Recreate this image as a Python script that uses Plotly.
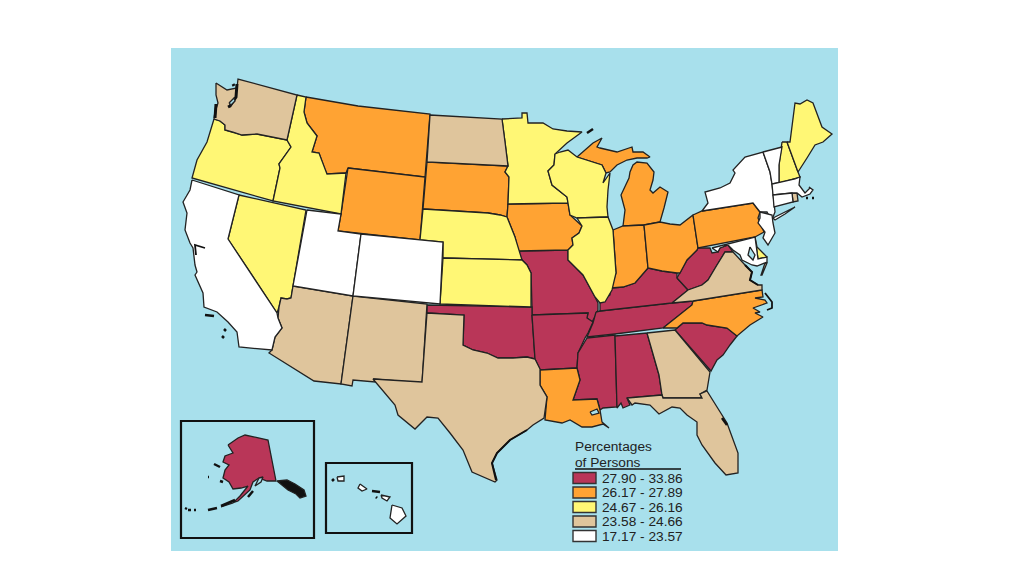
import plotly.graph_objects as go

# outlines, in picture pixels (x, y)
WA = [(216, 83), (216, 95), (218, 103), (215, 112), (214, 119), (220, 121), (225, 125), (225, 130), (233, 132),
      (242, 135), (257, 134), (272, 137), (287, 140), (297, 95), (238, 79), (237, 88), (227, 90)]
OR = [(214, 119), (207, 142), (197, 160), (192, 178), (273, 201), (280, 168), (279, 164), (291, 147), (287, 140),
      (272, 137), (257, 134), (242, 135), (233, 132), (225, 130), (225, 125), (220, 121)]
ID = [(297, 95), (306, 97), (304, 112), (307, 123), (317, 136), (312, 152), (319, 153), (325, 170), (327, 174),
      (346, 173), (341, 214), (273, 201), (280, 168), (279, 164), (291, 147), (287, 140)]
MT = [(306, 97), (358, 106), (430, 114), (425, 177), (348, 168), (346, 173), (327, 174), (325, 170), (319, 153),
      (312, 152), (317, 136), (307, 123), (304, 112)]
WY = [(348, 168), (425, 177), (420, 240), (361, 234), (338, 231), (341, 214)]
ND = [(430, 115), (502, 119), (505, 142), (508, 166), (427, 162)]
SD = [(427, 162), (508, 166), (505, 172), (509, 177), (508, 204), (507, 217), (500, 215), (488, 213), (423, 209)]
MN = [(502, 119), (522, 118), (522, 113), (527, 113), (528, 123), (543, 123), (553, 129), (567, 131), (582, 132),
      (567, 143), (555, 154), (554, 165), (548, 171), (552, 185), (567, 197), (568, 203), (508, 204), (509, 177),
      (505, 172), (508, 166), (505, 142)]
WI = [(555, 154), (560, 152), (568, 150), (577, 157), (602, 165), (606, 173), (603, 183), (610, 173), (608, 190),
      (607, 207), (608, 217), (577, 218), (570, 215), (568, 203), (567, 197), (552, 185), (548, 171), (554, 165)]
IA = [(508, 204), (568, 203), (570, 215), (582, 226), (579, 233), (572, 238), (573, 245), (568, 250), (518, 251),
      (515, 237), (507, 217)]
IL = [(577, 218), (608, 217), (613, 230), (616, 273), (612, 290), (605, 302), (600, 303), (595, 297), (583, 275),
      (568, 260), (568, 250), (573, 245), (572, 238), (579, 233), (582, 226)]
NE = [(423, 209), (488, 213), (500, 215), (507, 217), (515, 237), (522, 260), (443, 258), (443, 242), (420, 240)]
KS = [(443, 258), (522, 260), (527, 265), (531, 273), (531, 307), (440, 304)]
CO = [(361, 234), (420, 240), (443, 242), (440, 304), (353, 296)]
UT = [(307, 210), (341, 214), (338, 231), (361, 234), (353, 296), (293, 286)]
NV = [(239, 195), (306, 210), (293, 286), (291, 298), (287, 299), (281, 298), (279, 307), (277, 313), (228, 239)]
CA = [(192, 180), (239, 195), (228, 239), (277, 313), (278, 318), (282, 328), (275, 337), (272, 350), (239, 347),
      (237, 332), (228, 322), (217, 312), (204, 307), (203, 293), (195, 275), (197, 272), (195, 265), (193, 248),
      (190, 243), (185, 230), (187, 213), (183, 202), (190, 190)]
AZ = [(293, 286), (353, 296), (341, 384), (314, 381), (269, 353), (272, 350), (275, 337), (282, 328), (278, 318),
      (279, 307), (281, 298), (287, 299), (291, 298)]
NM = [(353, 296), (427, 304), (422, 383), (374, 379), (375, 382), (353, 380), (352, 386), (341, 384)]
TX = [(427, 313), (464, 315), (463, 345), (473, 350), (487, 353), (498, 358), (513, 358), (527, 357), (535, 359),
      (540, 369), (540, 385), (547, 397), (544, 418), (533, 425), (527, 430), (510, 440), (497, 453), (492, 463),
      (497, 480), (495, 482), (472, 472), (463, 450), (450, 433), (438, 418), (427, 417), (415, 429), (398, 415),
      (395, 405), (373, 379), (422, 382)]
OK = [(427, 305), (532, 307), (532, 315), (535, 359), (527, 357), (513, 358), (498, 358), (487, 353), (473, 350),
      (463, 345), (464, 315), (427, 313)]
AR = [(532, 315), (588, 313), (587, 318), (593, 322), (588, 333), (585, 338), (578, 353), (577, 368), (540, 370),
      (535, 359)]
MO = [(518, 251), (568, 250), (568, 260), (583, 275), (595, 297), (598, 303), (598, 310), (597, 313), (592, 322),
      (587, 318), (588, 313), (532, 315), (532, 307), (531, 273), (527, 265), (522, 260)]
LA = [(540, 370), (577, 368), (580, 380), (573, 400), (597, 399), (600, 410), (602, 422), (609, 428), (603, 424),
      (592, 427), (582, 427), (570, 420), (562, 423), (545, 420), (547, 397), (540, 385)]
MS = [(587, 338), (615, 335), (617, 407), (603, 408), (600, 410), (597, 399), (573, 400), (580, 380), (577, 368),
      (578, 353)]
AL = [(615, 336), (647, 333), (659, 375), (662, 395), (627, 398), (630, 405), (623, 408), (621, 403), (617, 408)]
GA = [(647, 333), (675, 330), (710, 372), (707, 390), (700, 394), (702, 398), (663, 398), (662, 395), (659, 375)]
FL = [(627, 398), (662, 395), (663, 398), (702, 398), (700, 394), (707, 391), (727, 423), (738, 453), (738, 473),
      (726, 475), (715, 463), (708, 453), (702, 445), (697, 435), (697, 422), (687, 415), (680, 408), (672, 407),
      (663, 412), (659, 414), (650, 405), (635, 403), (632, 405)]
SC = [(675, 330), (683, 323), (702, 323), (707, 325), (727, 328), (737, 336), (730, 345), (723, 355), (717, 360),
      (711, 371)]
NC = [(663, 328), (677, 317), (692, 305), (693, 301), (762, 290), (763, 297), (755, 298), (765, 300), (767, 303),
      (753, 308), (760, 312), (755, 313), (763, 317), (750, 325), (737, 336), (727, 328), (707, 325), (702, 323),
      (683, 323), (677, 328)]
TN = [(596, 312), (600, 311), (672, 303), (693, 301), (692, 305), (677, 317), (663, 328), (615, 334), (587, 337),
      (593, 323)]
KY = [(600, 303), (610, 295), (611, 288), (623, 287), (635, 283), (648, 268), (662, 271), (677, 273), (677, 278),
      (688, 290), (672, 303), (600, 311)]
VA = [(672, 303), (688, 290), (702, 285), (708, 280), (717, 265), (725, 252), (733, 252), (740, 260), (745, 265),
      (752, 272), (750, 280), (758, 285), (762, 285), (762, 290), (693, 301)]
WV = [(677, 278), (680, 273), (687, 260), (697, 250), (697, 243), (698, 248), (710, 248), (712, 253), (718, 252),
      (720, 248), (728, 245), (733, 252), (725, 252), (717, 265), (708, 280), (702, 285), (688, 290)]
OH = [(644, 225), (660, 222), (670, 224), (680, 225), (693, 215), (698, 248), (697, 250), (687, 260), (680, 273),
      (677, 273), (662, 271), (648, 268)]
IN = [(613, 230), (623, 226), (644, 225), (648, 268), (635, 283), (623, 287), (611, 288), (616, 273)]
MI_LOWER = [(623, 226), (625, 210), (621, 195), (627, 183), (629, 178), (630, 172), (633, 165), (637, 162), (647, 163),
            (654, 172), (653, 180), (650, 190), (653, 193), (660, 187), (668, 192), (664, 208), (660, 222), (644, 225)]
MI_UPPER = [(577, 157), (583, 152), (593, 143), (602, 138), (597, 147), (600, 148), (617, 152), (632, 147), (633, 152),
            (643, 152), (650, 157), (647, 158), (637, 158), (627, 160), (617, 165), (610, 172), (606, 173), (602, 165)]
PA = [(693, 215), (702, 211), (753, 203), (760, 212), (758, 218), (764, 232), (755, 237), (698, 248)]
NY = [(702, 211), (708, 203), (705, 192), (720, 188), (730, 183), (735, 173), (733, 170), (745, 157), (763, 152),
      (770, 172), (772, 184), (773, 195), (774, 207), (775, 212), (773, 217), (772, 222), (767, 212), (760, 212),
      (753, 203)]
LONG_ISLAND = [(773, 218), (795, 207), (785, 214), (775, 220)]
VT = [(763, 152), (782, 147), (779, 165), (779, 183), (772, 184), (770, 172)]
NH = [(782, 142), (787, 142), (798, 172), (800, 177), (779, 183), (779, 165)]
ME = [(787, 142), (790, 142), (795, 103), (800, 104), (807, 100), (813, 103), (822, 127), (832, 134), (823, 142),
      (815, 145), (807, 158), (798, 172)]
MA = [(772, 184), (795, 179), (800, 177), (799, 185), (805, 193), (810, 188), (809, 187), (813, 190), (810, 194),
      (802, 197), (797, 193), (792, 193), (773, 195)]
CT = [(773, 195), (792, 193), (793, 202), (774, 207)]
RI = [(792, 193), (797, 193), (798, 201), (793, 202)]
NJ = [(760, 212), (772, 215), (773, 223), (775, 233), (768, 245), (763, 238), (765, 232), (758, 223), (760, 218)]
DE = [(755, 237), (757, 247), (767, 257), (758, 259)]
MD = [(712, 248), (755, 237), (758, 259), (767, 257), (767, 262), (757, 266), (752, 265), (742, 260), (740, 255),
      (733, 250), (728, 245), (720, 248), (718, 252)]
CHES_BAY = [(750, 247), (748, 255), (753, 260), (755, 255)]
VA_SHORE = [(765, 263), (767, 263), (762, 275), (761, 275)]
AK = [(228, 445), (238, 438), (245, 435), (268, 440), (276, 481), (267, 481), (259, 478), (253, 482), (250, 490),
      (238, 501), (221, 507), (233, 503), (240, 496), (248, 486), (241, 488), (233, 489), (229, 482), (223, 478),
      (225, 470), (229, 465), (223, 462), (225, 456), (233, 453)]
AK_PANHANDLE = [(277, 481), (287, 480), (295, 484), (304, 490), (306, 496), (300, 498), (296, 494), (288, 490)]
HI_BIG = [(392, 505), (402, 508), (406, 516), (397, 524), (390, 518)]
HI_MAUI = [(381, 495), (390, 497), (387, 501), (382, 498)]
HI_OAHU = [(360, 484), (367, 489), (362, 491), (358, 488)]
HI_KAUAI = [(337, 477), (344, 476), (344, 481), (338, 481)]

# black shoreline detail and small islands
PUGET = [(237, 84), (236, 97), (230, 106), (228, 107)]
PUGET_ISLAND = [(233, 84), (234, 86)]
WA_COAST = [(216, 104), (215, 118)]
SF_BAY = [(195, 245), (205, 248), (195, 245), (196, 255)]
CA_ISLANDS = [[(205, 315), (214, 316)], [(224, 329), (226, 331)], [(222, 336), (224, 338)]]
TX_COAST = [(527, 430), (510, 440), (497, 453), (492, 463), (496, 480)]
FL_COAST = [(722, 418), (727, 425)]
OUTER_BANKS = [(765, 293), (772, 302), (772, 308), (767, 310)]
VA_TIDEWATER = [(745, 265), (752, 272), (750, 280), (758, 285)]
MA_ISLANDS = [[(806, 198), (808, 198)], [(812, 198), (814, 198)]]
AK_ISLANDS = [[(185, 508), (187, 509)], [(188, 510), (191, 510)], [(194, 510), (196, 510)], [(208, 510), (217, 508)],
              [(221, 506), (235, 500)], [(214, 464), (220, 467)], [(208, 477), (209, 477)], [(220, 481), (223, 482)],
              [(248, 497), (253, 491)]]
HI_ISLANDS = [[(332, 481), (334, 479)], [(372, 491), (380, 492)], [(376, 497), (377, 498)]]
ISLE_ROYALE = [[(587, 133), (593, 129)]]

# small water bodies drawn on top of the land
LAKE_PONTCHARTRAIN = [(590, 412), (597, 409), (599, 413), (592, 415)]
AK_COOK = [(259, 478), (263, 477), (261, 482), (255, 486)]
PUGET_SOUND = [(229, 103), (234, 98), (235, 101), (231, 105)]

BIN_LABELS = ["27.90 - 33.86", "26.17 - 27.89", "24.67 - 26.16", "23.58 - 24.66", "17.17 - 23.57"]
BIN_COLORS = ["#b93658", "#ffa333", "#fff775", "#dfc59c", "#ffffff"]

BIN_0 = [("Missouri", MO), ("Oklahoma", OK), ("Arkansas", AR), ("Mississippi", MS), ("Alabama", AL),
         ("Tennessee", TN), ("Kentucky", KY), ("West Virginia", WV), ("South Carolina", SC), ("Alaska", AK)]
BIN_1 = [("Montana", MT), ("Wyoming", WY), ("South Dakota", SD), ("Iowa", IA), ("Michigan", MI_LOWER),
         ("Michigan", MI_UPPER), ("Indiana", IN), ("Ohio", OH), ("Pennsylvania", PA), ("North Carolina", NC),
         ("Louisiana", LA)]
BIN_2 = [("Oregon", OR), ("Idaho", ID), ("Nevada", NV), ("Nebraska", NE), ("Kansas", KS), ("Minnesota", MN),
         ("Wisconsin", WI), ("Illinois", IL), ("New Hampshire", NH), ("Maine", ME), ("Delaware", DE)]
BIN_3 = [("Washington", WA), ("North Dakota", ND), ("Arizona", AZ), ("New Mexico", NM), ("Texas", TX),
         ("Georgia", GA), ("Florida", FL), ("Virginia", VA), ("Virginia", VA_SHORE), ("Rhode Island", RI)]
BIN_4 = [("California", CA), ("Utah", UT), ("Colorado", CO), ("New York", NY), ("New York", LONG_ISLAND),
         ("Vermont", VT), ("Massachusetts", MA), ("Connecticut", CT), ("New Jersey", NJ), ("Maryland", MD),
         ("Hawaii", HI_BIG), ("Hawaii", HI_MAUI), ("Hawaii", HI_OAHU), ("Hawaii", HI_KAUAI)]

WATER = "#a8e0ec"
INK = "#222222"

fig = go.Figure()


def add_polygon(points, color, name):
    fig.add_trace(
        go.Scatter(
            x=[p[0] for p in points] + [points[0][0]],
            y=[p[1] for p in points] + [points[0][1]],
            mode="lines",
            fill="toself",
            fillcolor=color,
            line=dict(color=INK, width=1.3),
            name=name,
            hoverinfo="name",
            showlegend=False,
        )
    )


def add_shoreline(points, width):
    fig.add_trace(
        go.Scatter(
            x=[p[0] for p in points],
            y=[p[1] for p in points],
            mode="lines",
            line=dict(color="#111111", width=width),
            hoverinfo="skip",
            showlegend=False,
        )
    )


for color, group in zip(BIN_COLORS, [BIN_0, BIN_1, BIN_2, BIN_3, BIN_4]):
    for name, points in group:
        add_polygon(points, color, name)

add_polygon(AK_PANHANDLE, "#111111", "Alaska")
add_polygon(LAKE_PONTCHARTRAIN, WATER, "lake")
add_polygon(AK_COOK, WATER, "Cook Inlet")
add_polygon(CHES_BAY, WATER, "Chesapeake Bay")

add_shoreline(PUGET, 3)
add_polygon(PUGET_SOUND, WATER, "Puget Sound")
add_shoreline(PUGET_ISLAND, 3)
add_shoreline(WA_COAST, 3)
add_shoreline(SF_BAY, 1.8)
add_shoreline(TX_COAST, 2)
add_shoreline(FL_COAST, 2.5)
add_shoreline(OUTER_BANKS, 1.8)
add_shoreline(VA_TIDEWATER, 2)
for line in CA_ISLANDS + MA_ISLANDS + AK_ISLANDS + HI_ISLANDS + ISLE_ROYALE:
    add_shoreline(line, 2.5)

shapes = [
    dict(type="rect", x0=171, x1=838, y0=48, y1=551, fillcolor=WATER, line=dict(width=0), layer="below"),
    dict(type="rect", x0=181, x1=314, y0=421, y1=538, line=dict(color="#111111", width=2.2)),
    dict(type="rect", x0=326, x1=412, y0=463, y1=533, line=dict(color="#111111", width=2.2)),
    dict(type="line", x0=575, x1=681, y0=469, y1=469, line=dict(color="#111111", width=1.6)),
]
annotations = [
    dict(x=573, y=446, text="Percentages"),
    dict(x=573, y=462, text="of Persons"),
]
for i, (label, color) in enumerate(zip(BIN_LABELS, BIN_COLORS)):
    mid = 478 + i * 14.5
    shapes.append(
        dict(type="rect", x0=573, x1=596, y0=mid - 5.5, y1=mid + 5.5, fillcolor=color,
             line=dict(color="#333333", width=1.4))
    )
    annotations.append(dict(x=600, y=mid, text=label))

for a in annotations:
    a.update(xref="x", yref="y", xanchor="left", yanchor="middle", showarrow=False,
             font=dict(family="Liberation Sans", size=13.7, color=INK))

fig.update_layout(
    width=997,
    height=565,
    margin=dict(l=0, r=0, t=0, b=0),
    paper_bgcolor="white",
    plot_bgcolor="white",
    xaxis=dict(range=[8, 1005], visible=False, fixedrange=True),
    yaxis=dict(range=[573, 8], visible=False, fixedrange=True),
    shapes=shapes,
    annotations=annotations,
    showlegend=False,
)

fig.write_html("out.html")
